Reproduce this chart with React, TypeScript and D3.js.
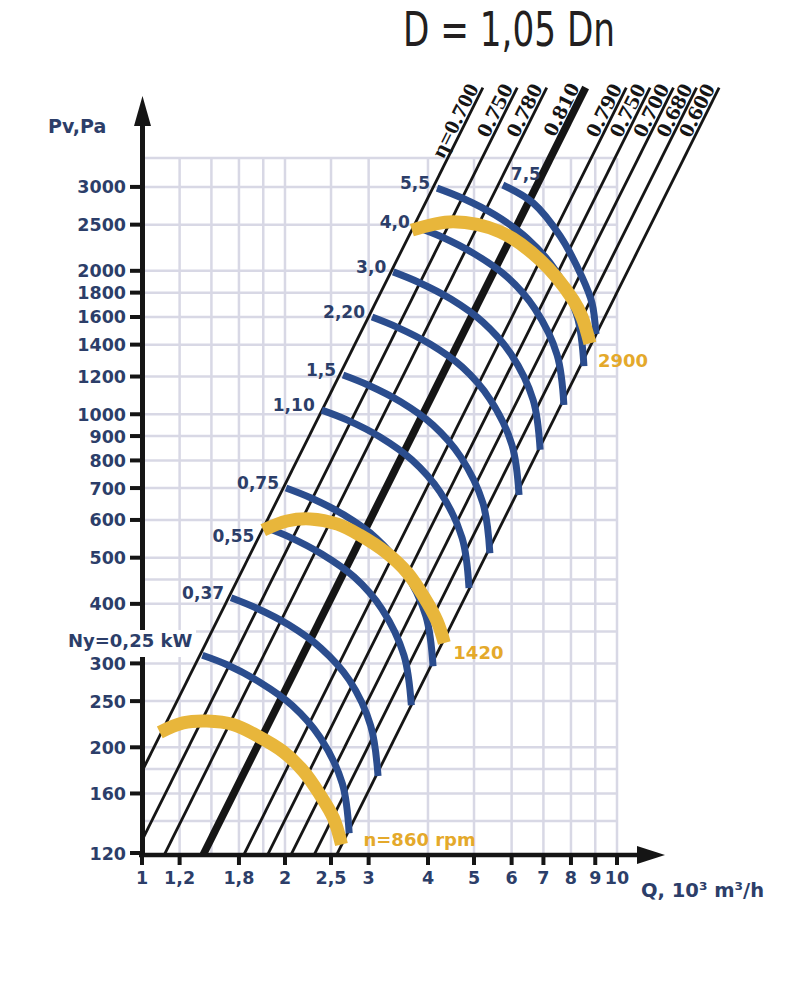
import React from "react";
import * as d3 from "d3";

const W = 809;
const H = 983;

// Q axis, 10^3 m3/h (the "1,8" label sits on the 1.6 line in the original)
const xTicks = [1, 1.2, 1.6, 2, 2.5, 3, 4, 5, 6, 7, 8, 9, 10];
const xTickLabels = ["1", "1,2", "1,8", "2", "2,5", "3", "4", "5", "6", "7", "8", "9", "10"];
const xGrid = [1.2, 1.4, 1.6, 1.8, 2, 2.5, 3, 4, 5, 6, 7, 8, 9, 10];

// Pv axis, Pa
const yTicks = [120, 160, 200, 250, 300, 400, 500, 600, 700, 800, 900, 1000, 1200, 1400, 1600, 1800, 2000, 2500, 3000];
const yGrid = [140, 160, 180, 200, 250, 300, 350, 400, 450, 500, 600, 700, 800, 900, 1000, 1200, 1400, 1600, 1800, 2000, 2500, 3000, 3450];
const pTop = 3450;

// efficiency lines: flow where each line crosses Pv = 1000 Pa
const etaLabels = ["η=0.700", "0.750", "0.780", "0.810", "0.790", "0.750", "0.700", "0.680", "0.600"];
const etaQ1000 = [2.37, 2.8, 3.23, 3.9, 4.75, 5.33, 5.97, 6.68, 7.45];
const etaBest = 3;
const etaPLow = 100;
const etaPHigh = 4850;

// motor power curves, kW  [Q, Pv]
const powerLabels = ["Ny=0,25 kW", "0,37", "0,55", "0,75", "1,10", "1,5", "2,20", "3,0", "4,0", "5,5", "7,5"];
const powerCurves = [
  [[1.34, 312], [1.51, 298], [1.77, 274], [2.07, 245], [2.37, 210], [2.64, 168], [2.73, 132]],
  [[1.54, 412], [1.74, 392], [2.04, 361], [2.38, 323], [2.73, 277], [3.03, 222], [3.14, 174]],
  [[1.81, 580], [2.04, 553], [2.39, 509], [2.8, 455], [3.2, 390], [3.56, 312], [3.69, 245]],
  [[2.01, 700], [2.27, 667], [2.66, 615], [3.11, 550], [3.56, 471], [3.96, 377], [4.1, 296]],
  [[2.39, 1020], [2.7, 973], [3.17, 896], [3.7, 802], [4.24, 687], [4.72, 550], [4.88, 432]],
  [[2.65, 1209], [2.99, 1152], [3.51, 1061], [4.1, 949], [4.69, 813], [5.22, 651], [5.4, 511]],
  [[3.05, 1600], [3.44, 1524], [4.04, 1404], [4.72, 1257], [5.4, 1076], [6.01, 862], [6.22, 677]],
  [[3.38, 1990], [3.81, 1895], [4.47, 1745], [5.22, 1561], [5.98, 1338], [6.66, 1071], [6.89, 842]],
  [[3.79, 2470], [4.28, 2355], [5.02, 2168], [5.87, 1942], [6.72, 1663], [7.48, 1332], [7.73, 1046]],
  [[4.18, 2983], [4.72, 2843], [5.54, 2618], [6.46, 2344], [7.41, 2008], [8.24, 1608], [8.52, 1262]],
  [[5.75, 3028], [6.66, 2776], [7.59, 2366], [8.44, 1941], [8.86, 1711], [9.03, 1473]],
];

// fan speed curves, rpm  [Q, Pv]
const speedLabels = ["n=860 rpm", "1420", "2900"];
const speedCurves = [
  [[1.09, 215], [1.22, 225], [1.37, 227], [1.56, 223], [1.74, 212], [1.98, 196], [2.19, 178], [2.37, 159], [2.53, 142], [2.63, 125]],
  [[1.8, 571], [2.02, 597], [2.26, 603], [2.58, 588], [2.87, 558], [3.27, 512], [3.62, 465], [3.92, 414], [4.18, 368], [4.33, 331]],
  [[3.7, 2435], [4.52, 2536], [5.67, 2416], [6.89, 2107], [8.09, 1736], [8.44, 1600], [8.77, 1409]],
];

const navy = "#2c3e69";
const blue = "#2b4d8e";
const gold = "#e8b63b";
const goldText = "#e4a92b";
const gridColor = "#d8d8e5";
const ink = "#151515";
const sans = "'DejaVu Sans', Verdana, sans-serif";

// label nudges (px) relative to the curve end they belong to
const powerNudge: { [k: string]: [number, number, string] } = {
  "Ny=0,25 kW": [-10, -8, "end"],
  "0,55": [-10, 15, "end"],
  "7,5": [8, -5, "start"],
};
const speedNudge: [number, number][] = [[22, 1], [9, 16], [8, 24]];

export default function App() {
  const x = d3.scaleLog().domain([1, 10]).range([142, 617]);
  const y = d3.scaleLog().domain([120, pTop]).range([853, 158]);
  const curve = d3
    .line<number[]>()
    .x((d) => x(d[0]))
    .y((d) => y(d[1]))
    .curve(d3.curveCatmullRom.alpha(0.5));
  const straight = d3
    .line<number[]>()
    .x((d) => x(d[0]))
    .y((d) => y(d[1]));

  const xAxisY = y(120) + 2;
  const yAxisX = x(1) + 0.5;

  return (
    <svg width={W} height={H} style={{ position: "absolute", left: 0, top: 0, background: "#fff" }}>
      <defs>
        <clipPath id="plot">
          <rect x={x(1)} y={0} width={W} height={y(120)} />
        </clipPath>
      </defs>

      {/* title */}
      <text x={509} y={46} textAnchor="middle" fontFamily="'Liberation Sans Narrow', 'DejaVu Sans Condensed', sans-serif"
        fontSize={48} fill="#231f20" textLength={212} lengthAdjust="spacingAndGlyphs">
        D = 1,05 Dn
      </text>

      {/* grid */}
      <g stroke={gridColor} strokeWidth={2.5}>
        {xGrid.map((q) => (
          <line key={"gx" + q} x1={x(q)} x2={x(q)} y1={y(120)} y2={y(pTop)} />
        ))}
        {yGrid.map((p) => (
          <line key={"gy" + p} x1={x(1)} x2={x(10)} y1={y(p)} y2={y(p)} />
        ))}
      </g>

      {/* efficiency lines */}
      <g clipPath="url(#plot)">
        {etaQ1000.map((q0, i) => {
          const pts = [
            [q0 * Math.sqrt(etaPLow / 1000), etaPLow],
            [q0 * Math.sqrt(etaPHigh / 1000), etaPHigh],
          ];
          return (
            <path key={"eta" + i} d={straight(pts) || ""} stroke={ink} fill="none"
              strokeWidth={i === etaBest ? 7.5 : 2.8} />
          );
        })}
      </g>
      <g fontFamily="'Liberation Serif', 'Times New Roman', serif" fontWeight="bold" fontSize={21} fill={ink}>
        {etaQ1000.map((q0, i) => {
          const qa = q0 * Math.sqrt(etaPLow / 1000);
          const qb = q0 * Math.sqrt(etaPHigh / 1000);
          const ang = (Math.atan2(y(etaPHigh) - y(etaPLow), x(qb) - x(qa)) * 180) / Math.PI;
          return (
            <text key={"etal" + i} transform={`translate(${x(qb)},${y(etaPHigh)}) rotate(${ang})`}
              x={-2} y={i === etaBest ? -5 : -3} textAnchor="end"
              textLength={i === 0 ? 80 : 57} lengthAdjust="spacingAndGlyphs">
              {etaLabels[i]}
            </text>
          );
        })}
      </g>

      {/* power curves */}
      <g fill="none" stroke={blue} strokeWidth={7} strokeLinecap="butt">
        {powerCurves.map((c, i) => (
          <path key={"pw" + i} d={curve(c) || ""} />
        ))}
      </g>

      {/* speed curves */}
      <g fill="none" stroke={gold} strokeWidth={13} strokeLinecap="butt">
        {speedCurves.map((c, i) => (
          <path key={"sp" + i} d={curve(c) || ""} />
        ))}
      </g>

      {/* axes */}
      <g fill={ink} stroke={ink}>
        <line x1={yAxisX} x2={yAxisX} y1={xAxisY + 2} y2={122} strokeWidth={5} />
        <polygon points={`${yAxisX},96 ${yAxisX - 8.5},126 ${yAxisX + 8.5},126`} stroke="none" />
        <line x1={x(1) - 3} x2={640} y1={xAxisY} y2={xAxisY} strokeWidth={4.5} />
        <polygon points={`665,${xAxisY} 637,${xAxisY - 9} 637,${xAxisY + 9}`} stroke="none" />
        {yTicks.map((p) => (
          <line key={"ty" + p} x1={130} x2={yAxisX} y1={y(p)} y2={y(p)} strokeWidth={4} />
        ))}
        {xTicks.map((q) => (
          <line key={"tx" + q} x1={x(q)} x2={x(q)} y1={xAxisY} y2={xAxisY + 10} strokeWidth={4} />
        ))}
      </g>

      {/* tick labels */}
      <g fontFamily={sans} fontWeight="bold" fontSize={17.5} fill={navy}>
        {yTicks.map((p) => (
          <text key={"ly" + p} x={126} y={y(p) + 6.5} textAnchor="end">{p}</text>
        ))}
        {xTicks.map((q, i) => (
          <text key={"lx" + q} x={x(q)} y={884} textAnchor="middle">{xTickLabels[i]}</text>
        ))}
        <text x={48} y={133} fontSize={19}>Pv,Pa</text>
        <text x={641} y={897} fontSize={19.5}>Q, 10³ m³/h</text>
      </g>

      {/* power labels */}
      <rect x={60} y={630} width={136} height={27} fill="#fff" />
      <g fontFamily={sans} fontWeight="bold" fontSize={17} fill={navy}>
        {powerCurves.map((c, i) => {
          const lab = powerLabels[i];
          const [dx, dy, anchor] = powerNudge[lab] || [-7, 1, "end"];
          return (
            <text key={"pl" + i} x={x(c[0][0]) + dx} y={y(c[0][1]) + dy} textAnchor={anchor}
              fontSize={i === 0 ? 18 : 17}>
              {lab}
            </text>
          );
        })}
      </g>

      {/* speed labels */}
      <g fontFamily={sans} fontWeight="bold" fontSize={18} fill={goldText}>
        {speedCurves.map((c, i) => {
          const end = c[c.length - 1];
          return (
            <text key={"sl" + i} x={x(end[0]) + speedNudge[i][0]} y={y(end[1]) + speedNudge[i][1]}>
              {speedLabels[i]}
            </text>
          );
        })}
      </g>
    </svg>
  );
}
